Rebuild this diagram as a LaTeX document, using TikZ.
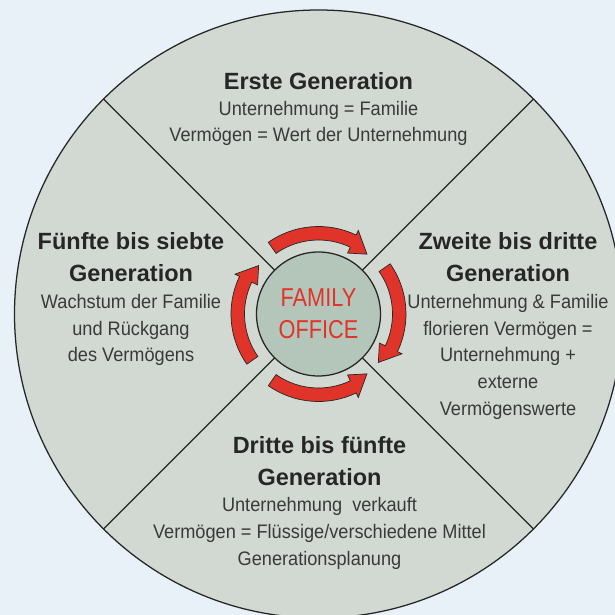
\documentclass[tikz,border=0pt]{standalone}
\usepackage{fontspec}
\setmainfont{Liberation Sans}
\newfontfamily\bodyfont[FakeStretch=0.93]{Liberation Sans}
\newfontfamily\officefont[FakeStretch=0.84]{Liberation Sans}
\usepackage{tikz}

\definecolor{bgblue}{HTML}{E8F0F8}
\definecolor{wheel}{HTML}{D1D9D2}
\definecolor{hub}{HTML}{B4C5BA}
\definecolor{arrowred}{HTML}{E0342A}
\definecolor{ink}{HTML}{262626}
\definecolor{bodyink}{HTML}{3A3A3A}

\begin{document}
\begin{tikzpicture}[x=0.25mm, y=0.25mm,
  gentitle/.style={anchor=base, inner sep=0, text=ink, font=\fontsize{16.7}{22.8}\selectfont\bfseries},
  genline/.style={anchor=base, inner sep=0, text=bodyink, font=\bodyfont\fontsize{13.9}{19}\selectfont},
  cyclearrow/.style={fill=arrowred, draw=ink, line width=0.5pt, line join=miter}]
  \fill[bgblue] (-318.5,-301) rectangle (296.5,314);
  \useasboundingbox (-318.5,-301) rectangle (296.5,314);
  \clip (-318.5,-301) rectangle (296.5,314);

  \draw[fill=wheel, draw=ink, line width=0.9pt] (0,0) circle[radius=304];
  \foreach \a in {45,135,225,315}
    \coordinate (rim\a) at (\a:304);
  \draw[ink, line width=0.9pt] (rim135) -- (rim315) (rim45) -- (rim225);

  \node[circle, fill=hub, draw=ink, line width=0.9pt, minimum size=31mm, inner sep=0,
    align=center, text=arrowred, font=\officefont\fontsize{18.4}{22.5}\selectfont] (office) at (0,0) {FAMILY\\OFFICE};

  % tail / head base / tip angles
  \foreach \t/\h/\p in {125/64.5/51, 35/-25.5/-39, 215/154.5/141, 235/295.5/309}
    \draw[cyclearrow] (\t:87.5) arc[start angle=\t, end angle=\h, radius=87.5] -- (\h:92.5) -- (\p:77)
      -- (\h:67.5) -- (\h:74) arc[start angle=\h, end angle=\t, radius=74] -- cycle;

  \node[gentitle] (first-title) at (0,225) {Erste Generation};
  \foreach \y/\txt [count=\i] in {199/Unternehmung = Familie, 172.3/Vermögen = Wert der Unternehmung}
    \node[genline] (first-\i) at (0,\y) {\txt};

  \node[gentitle] (second-title-1) at (189.5,64.7) {Zweite bis dritte};
  \node[gentitle] (second-title-2) at (189.5,32.3) {Generation};
  \foreach \y/\txt [count=\i] in {5.7/Unternehmung \& Familie, -21/florieren Vermögen =,
      -47.7/Unternehmung +, -74.3/externe, -101/Vermögenswerte}
    \node[genline] (second-\i) at (189.5,\y) {\txt};

  \node[gentitle] (third-title-1) at (1,-139) {Dritte bis fünfte};
  \node[gentitle] (third-title-2) at (1,-171) {Generation};
  \foreach \y/\txt [count=\i] in {-197.7/Unternehmung\ \ verkauft,
      -224/{Vermögen = Flüssige/verschiedene Mittel}, -251/Generationsplanung}
    \node[genline] (third-\i) at (1,\y) {\txt};

  \node[gentitle] (fifth-title-1) at (-187.5,64.7) {Fünfte bis siebte};
  \node[gentitle] (fifth-title-2) at (-187.5,32.3) {Generation};
  \foreach \y/\txt [count=\i] in {5.7/Wachstum der Familie, -21/und Rückgang, -47.7/des Vermögens}
    \node[genline] (fifth-\i) at (-187.5,\y) {\txt};
\end{tikzpicture}
\end{document}
